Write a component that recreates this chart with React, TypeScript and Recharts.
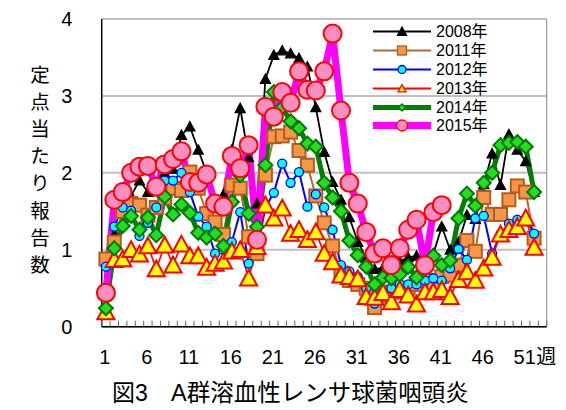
import React from "react";
import { LineChart, Line, XAxis, YAxis, CartesianGrid, Legend } from "recharts";

// 週 (1..53) — the axis has 53 slots, data runs to week 52
const weeks = [
  1, 2, 3, 4, 5, 6, 7, 8, 9, 10, 11, 12, 13, 14, 15, 16, 17, 18, 19, 20, 21, 22, 23, 24, 25, 26,
  27, 28, 29, 30, 31, 32, 33, 34, 35, 36, 37, 38, 39, 40, 41, 42, 43, 44, 45, 46, 47, 48, 49, 50,
  51, 52, 53,
];
const xTickLabels = [1, 6, 11, 16, 21, 26, 31, 36, 41, 46, 51];
const yTicks = [0, 1, 2, 3, 4];

const s2008 = [
  0.9, 1.2, 1.35, 1.7, 1.9, 1.75, 1.8, 2.0, 2.05, 2.49, 2.6, 2.3, 2.0, 1.6, 1.72, 2.3, 2.84, 2.2,
  1.6, 3.22, 3.53, 3.59, 3.55, 3.49, 3.38, 2.85, 2.27, 1.88, 1.65, 1.42, 1.1, 0.9, 0.75, 0.76, 0.85,
  0.85, 0.9, 0.92, 0.8, 0.95, 1.3, 1.0, 1.1, 1.45, 1.4, 1.85, 2.25, 1.84, 2.5, 2.3, 2.15, 1.75,
];
const s2011 = [
  0.88, 1.1, 1.5, 1.6, 1.58, 1.45, 1.55, 1.67, 1.8, 1.77, 2.01, 1.8, 1.47, 1.36, 1.2, 1.84, 1.8,
  1.17, 0.95, 1.97, 2.47, 2.48, 2.53, 2.29, 2.1, 1.7, 1.35, 1.05, 0.7, 0.6, 0.55, 0.5, 0.25, 0.4,
  0.45, 0.45, 0.5, 0.55, 0.6, 0.55, 0.65, 0.67, 0.8, 1.12, 0.98, 1.68, 1.46, 1.46, 1.65, 1.83,
  1.75, 1.15,
];
const s2012 = [
  0.78, 1.3, 1.55, 1.51, 1.18, 1.35, 1.55, 1.9, 1.9, 2.0, 1.75, 1.43, 1.3, 0.95, 1.0, 1.1, 1.49,
  0.82, 1.0, 1.55, 1.74, 2.12, 1.87, 2.01, 1.56, 1.72, 1.55, 1.26, 0.8, 0.72, 0.65, 0.5, 0.3, 0.45,
  0.5, 0.55, 0.55, 0.55, 0.6, 0.63, 0.6, 0.76, 1.01, 0.87, 1.41, 1.44, 0.95, 1.2, 1.34, 1.39, 1.4,
  1.21,
];
const s2013 = [
  0.19, 0.87, 0.88, 1.0, 0.94, 1.05, 0.75, 1.06, 0.8, 1.07, 0.92, 0.92, 0.77, 0.82, 0.85, 0.98,
  1.0, 0.63, 1.04, 1.58, 1.41, 1.54, 1.21, 1.26, 1.13, 1.23, 0.95, 0.84, 0.67, 0.65, 0.62, 0.39,
  0.38, 0.44, 0.32, 0.48, 0.41, 0.29, 0.45, 0.45, 0.48, 0.39, 0.61, 0.71, 0.6, 0.76, 0.9, 1.2,
  1.26, 1.3, 1.41, 1.03,
];
const s2014 = [
  0.24, 1.02, 1.31, 1.44, 1.26, 1.42, 1.19, 1.69, 1.46, 1.59, 1.48, 1.22, 1.16, 1.21, 1.05, 1.62,
  1.97, 1.47, 1.3, 2.1, 3.05, 2.85, 2.67, 2.58, 2.38, 2.34, 1.87, 1.68, 1.5, 1.12, 0.93, 0.78,
  0.55, 0.64, 0.63, 0.68, 0.78, 0.64, 0.75, 0.92, 0.8, 0.86, 1.41, 1.73, 1.57, 1.87, 2.0, 2.36,
  2.39, 2.4, 2.34, 1.75,
];
const s2015 = [
  0.44, 1.65, 1.75, 2.0, 2.08, 2.09, 1.82, 2.11, 2.18, 2.28, 1.88, 1.87, 1.98, 1.6, 1.56, 2.22,
  2.06, 2.36, 1.13, 2.86, 2.73, 3.05, 2.91, 3.32, 3.08, 3.07, 3.32, 3.81, 2.81, 1.87, 1.6, 1.23,
  0.95, 1.02, 0.8, 1.02, 1.26, 1.39, 0.8, 1.49, 1.58,
];

const yLabelChars = ["定", "点", "当", "た", "り", "報", "告", "数"];
const titleFig = "図3";
const titleText = "A群溶血性レンサ球菌咽頭炎";

const FONT = '"Liberation Sans", Arial, "Noto Sans CJK JP", sans-serif';
const W = 566;
const H = 410;
const PLOT_L = 101.7;
const PLOT_R = 546.7;
const PLOT_T = 19;
const PLOT_B = 326.7;
const band = (PLOT_R - PLOT_L) / weeks.length;

type Shape = "triangle" | "square" | "circle" | "diamond";

const series = [
  { key: "y2008", name: "2008年", data: s2008, color: "#000000", width: 1.8, shape: "triangle" as Shape, size: 10, fill: "#000000", edge: "#000000", lsize: 9 },
  { key: "y2011", name: "2011年", data: s2011, color: "#B8682C", width: 2, shape: "square" as Shape, size: 13, fill: "#F79646", edge: "#B35C1E", lsize: 9 },
  { key: "y2012", name: "2012年", data: s2012, color: "#0000FF", width: 2, shape: "circle" as Shape, size: 9, fill: "#00FFFF", edge: "#0000FF", lsize: 8 },
  { key: "y2013", name: "2013年", data: s2013, color: "#FF0000", width: 1.6, shape: "triangle" as Shape, size: 17, fill: "#FFFF00", edge: "#FF0000", lsize: 8 },
  { key: "y2014", name: "2014年", data: s2014, color: "#008000", width: 5, shape: "diamond" as Shape, size: 14, fill: "#22DD22", edge: "#007A00", lsize: 7 },
  { key: "y2015", name: "2015年", data: s2015, color: "#FF00FF", width: 7, shape: "circle" as Shape, size: 18, fill: "#F98FC0", edge: "#FF0000", lsize: 11 },
];

const table = weeks.map((w, i) => {
  const row: Record<string, number | null> = { week: w };
  series.forEach((s) => {
    row[s.key] = i < s.data.length ? s.data[i] : null;
  });
  return row;
});

function Marker({ shape, cx, cy, size, fill, edge }: { shape: Shape; cx: number; cy: number; size: number; fill: string; edge: string }) {
  const h = size / 2;
  const sw = size > 12 ? 2 : 1.3;
  if (shape === "circle") return <circle cx={cx} cy={cy} r={h} fill={fill} stroke={edge} strokeWidth={sw} />;
  if (shape === "square")
    return <rect x={cx - h} y={cy - h} width={size} height={size} fill={fill} stroke={edge} strokeWidth={sw} />;
  if (shape === "diamond")
    return (
      <polygon
        points={`${cx},${cy - h} ${cx + h},${cy} ${cx},${cy + h} ${cx - h},${cy}`}
        fill={fill}
        stroke={edge}
        strokeWidth={sw}
      />
    );
  return (
    <polygon
      points={`${cx},${cy - h} ${cx + h},${cy + h * 0.85} ${cx - h},${cy + h * 0.85}`}
      fill={fill}
      stroke={edge}
      strokeWidth={sw}
      strokeLinejoin="miter"
    />
  );
}

const XTick = (props: any) => {
  const { x, y, payload, index } = props;
  const w = payload.value;
  return (
    <g>
      <line x1={x - band / 2} x2={x - band / 2} y1={y} y2={y - 6} stroke="#666" strokeWidth={1} />
      {index === weeks.length - 1 && (
        <line x1={x + band / 2} x2={x + band / 2} y1={y} y2={y - 6} stroke="#666" strokeWidth={1} />
      )}
      {xTickLabels.includes(w) && (
        <text x={x - 1} y={y + 37} textAnchor="middle" fontSize={20} fill="#000" fontFamily={FONT}>
          {w}
        </text>
      )}
      {w === xTickLabels[xTickLabels.length - 1] && (
        <text x={x + 10.5} y={y + 37} textAnchor="start" fontSize={20} fill="#000" fontFamily={FONT}>
          週
        </text>
      )}
    </g>
  );
};

const YTick = (props: any) => {
  const { x, y, payload } = props;
  return (
    <text x={x - 35} y={y + 7} textAnchor="middle" fontSize={20} fill="#000" fontFamily={FONT}>
      {payload.value}
    </text>
  );
};

const LegendBox = () => (
  <div style={{ fontFamily: FONT, fontSize: 16, lineHeight: "19px", color: "#000" }}>
    {series.map((s) => (
      <div key={s.key} style={{ display: "flex", alignItems: "center", height: 18.9 }}>
        <svg width={60} height={19} style={{ display: "block" }}>
          <line x1={1} x2={59} y1={9.5} y2={9.5} stroke={s.color} strokeWidth={Math.max(s.width, 2)} />
          <Marker shape={s.shape} cx={30} cy={9.5} size={s.lsize} fill={s.fill} edge={s.edge} />
        </svg>
        <span style={{ marginLeft: 4, whiteSpace: "nowrap" }}>{s.name}</span>
      </div>
    ))}
  </div>
);

export default function App() {
  return (
    <div style={{ position: "absolute", left: 0, top: 0, width: W, height: H, background: "#fff" }}>
      <LineChart
        width={W}
        height={H}
        data={table}
        margin={{ top: PLOT_T, right: W - PLOT_R, left: 0, bottom: 0 }}
      >
        <CartesianGrid stroke="#BFBFBF" strokeWidth={2} vertical={false} />
        <CartesianGrid stroke="#9A9A9A" strokeWidth={1.2} horizontal={false} verticalPoints={[PLOT_R]} />
        <XAxis
          dataKey="week"
          type="category"
          interval={0}
          height={H - PLOT_B}
          padding={{ left: band / 2, right: band / 2 }}
          axisLine={{ stroke: "#000", strokeWidth: 1.5 }}
          tickLine={false}
          tickSize={0}
          tickMargin={0}
          tick={<XTick />}
        />
        <YAxis
          domain={[0, 4]}
          ticks={yTicks}
          width={PLOT_L}
          axisLine={{ stroke: "#000", strokeWidth: 1.5 }}
          tickLine={false}
          tickSize={0}
          tickMargin={0}
          tick={<YTick />}
          allowDataOverflow
        />
        <Legend
          layout="vertical"
          align="center"
          verticalAlign="middle"
          content={<LegendBox />}
          wrapperStyle={{ position: "absolute", left: 372, top: 22, width: 130 }}
        />
        {series.map((s) => (
          <Line
            key={s.key}
            dataKey={s.key}
            name={s.name}
            type="linear"
            stroke={s.color}
            strokeWidth={s.width}
            strokeLinejoin="round"
            isAnimationActive={false}
            dot={(p: any) =>
              p.cx == null || p.cy == null || p.value == null ? (
                <g key={p.key ?? p.index} />
              ) : (
                <g key={p.key ?? p.index}>
                  <Marker shape={s.shape} cx={p.cx} cy={p.cy} size={s.size} fill={s.fill} edge={s.edge} />
                </g>
              )
            }
            activeDot={false}
          />
        ))}
      </LineChart>
      <svg
        width={W}
        height={H}
        style={{ position: "absolute", left: 0, top: 0, pointerEvents: "none" }}
      >
        {yLabelChars.map((c, i) => (
          <text key={i} x={40} y={82 + i * 27.1} textAnchor="middle" fontSize={19.5} fontFamily={FONT} fill="#000">
            {c}
          </text>
        ))}
        <text x={112} y={401} textAnchor="start" fontSize={23} fontFamily={FONT} fill="#000">
          {titleFig}
        </text>
        <text x={171} y={401} textAnchor="start" fontSize={23.5} fontFamily={FONT} fill="#000">
          {titleText}
        </text>
      </svg>
    </div>
  );
}
